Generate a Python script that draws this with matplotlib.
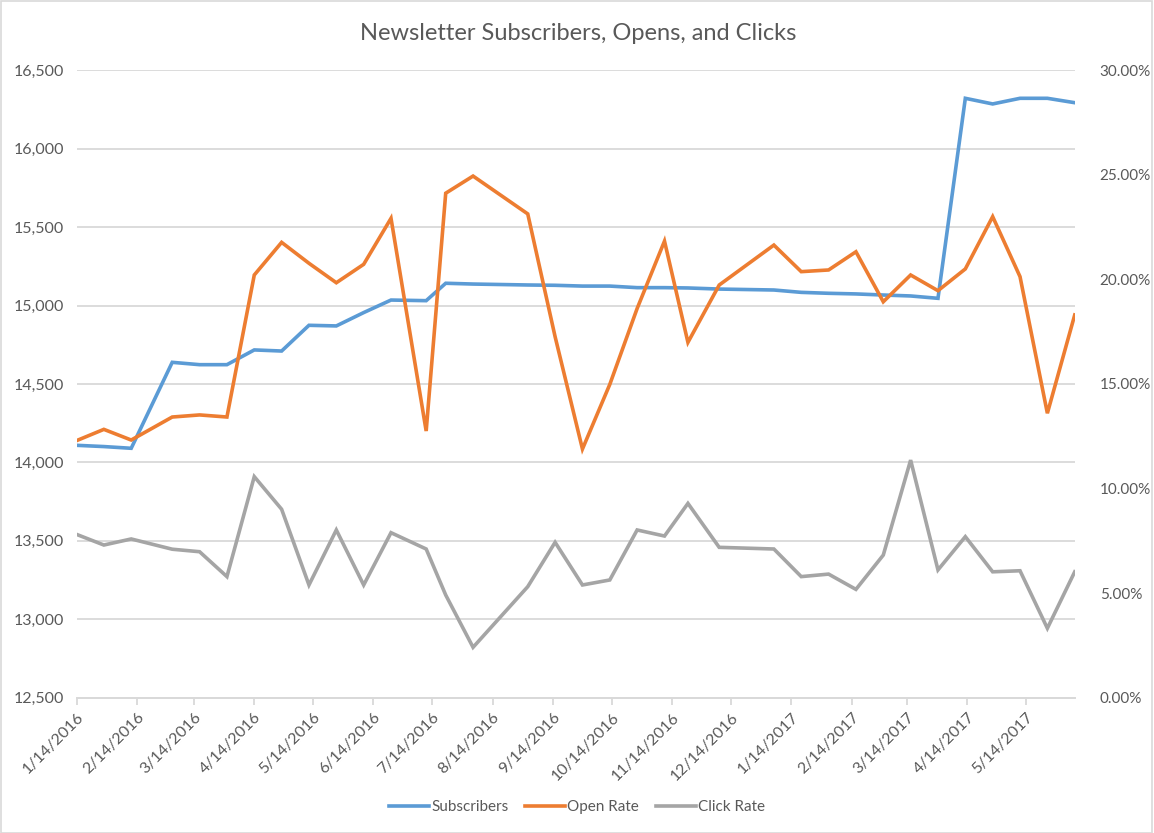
import matplotlib
matplotlib.use("Agg")
import matplotlib.pyplot as plt
from matplotlib.ticker import FuncFormatter
from matplotlib.patches import Rectangle
import pandas as pd

plt.rcParams['font.family'] = ['Lato', 'DejaVu Sans']

# data (roughly biweekly sends)
dates = ["2016-01-14", "2016-01-28", "2016-02-11", "2016-03-03", "2016-03-17", "2016-03-31",
         "2016-04-14", "2016-04-28", "2016-05-12", "2016-05-26", "2016-06-09", "2016-06-23",
         "2016-07-11", "2016-07-21", "2016-08-04", "2016-09-01", "2016-09-15", "2016-09-29",
         "2016-10-13", "2016-10-27", "2016-11-10", "2016-11-22", "2016-12-08", "2017-01-05",
         "2017-01-19", "2017-02-02", "2017-02-16", "2017-03-02", "2017-03-16", "2017-03-30",
         "2017-04-13", "2017-04-27", "2017-05-11", "2017-05-25", "2017-06-08"]

subscribers = [14109, 14101, 14090, 14638, 14623, 14623, 14717, 14710, 14874, 14870, 14955, 15035,
               15031, 15142, 15137, 15131, 15129, 15124, 15124, 15114, 15114, 15112, 15105, 15099,
               15084, 15078, 15074, 15067, 15061, 15046, 16321, 16285, 16321, 16321, 16293]

open_rate = [12.29, 12.83, 12.32, 13.42, 13.52, 13.42, 20.21, 21.77, 20.77, 19.84, 20.72, 22.92,
             12.75, 24.12, 24.94, 23.13, 17.26, 11.89, 14.98, 18.61, 21.83, 16.99, 19.73, 21.64,
             20.37, 20.45, 21.32, 18.93, 20.21, 19.46, 20.50, 23.00, 20.13, 13.60, 18.30]

click_rate = [7.81, 7.30, 7.59, 7.10, 6.98, 5.79, 10.57, 9.01, 5.39, 8.02, 5.39, 7.89,
              7.11, 4.91, 2.41, 5.31, 7.43, 5.39, 5.63, 8.02, 7.73, 9.29, 7.19, 7.11,
              5.79, 5.91, 5.18, 6.82, 11.36, 6.11, 7.70, 6.02, 6.07, 3.32, 6.02]

x = pd.to_datetime(dates)
tick_dates = pd.date_range("2016-01-01", "2017-05-01", freq="MS") + pd.Timedelta(days=13)
tick_labels = [f"{d.month}/{d.day}/{d.year}" for d in tick_dates]

blue = "#5B9BD5"
orange = "#ED7D31"
gray = "#A5A5A5"
text_col = "#595959"
grid_col = "#D9D9D9"

fig = plt.figure(figsize=(11.54, 8.33), dpi=100)
ax = fig.add_axes([0.0663, 0.1624, 0.865, 0.7533])
ax2 = ax.twinx()

l1, = ax.plot(x, subscribers, color=blue, lw=2.6, solid_joinstyle="miter", label="Subscribers")
l2, = ax2.plot(x, [v / 100 for v in open_rate], color=orange, lw=2.6, solid_joinstyle="miter", label="Open Rate")
l3, = ax2.plot(x, [v / 100 for v in click_rate], color=gray, lw=2.6, solid_joinstyle="miter", label="Click Rate")

ax.set_ylim(12500, 16500)
ax.set_yticks(range(12500, 16501, 500))
ax.yaxis.set_major_formatter(FuncFormatter(lambda v, p: f"{int(v):,}"))
ax2.set_ylim(0, 0.30)
ax2.set_yticks([0, 0.05, 0.10, 0.15, 0.20, 0.25, 0.30])
ax2.yaxis.set_major_formatter(FuncFormatter(lambda v, p: f"{v * 100:.2f}%"))

ax.set_xlim(x[0], x[-1])
ax.set_xticks(tick_dates)
ax.set_xticklabels(tick_labels, rotation=45, ha="right", rotation_mode="anchor")

ax.grid(axis="y", color=grid_col, lw=1.3)
ax.set_axisbelow(True)
for a in (ax, ax2):
    for s in ("left", "right", "top"):
        a.spines[s].set_visible(False)
    a.spines["bottom"].set_color(grid_col)
    a.spines["bottom"].set_linewidth(1.3)
    a.tick_params(axis="y", length=0, labelsize=11.5, labelcolor=text_col)
ax.tick_params(axis="y", pad=9)
ax2.tick_params(axis="y", pad=18, labelsize=11)
ax.tick_params(axis="x", length=5, width=1.3, color=grid_col, labelsize=11.5, labelcolor=text_col, pad=4)

fig.suptitle("Newsletter Subscribers, Opens, and Clicks", x=0.501, y=0.972, fontsize=17, color=text_col)

fig.legend(handles=[l1, l2, l3], loc="center", bbox_to_anchor=(0.5, 0.031), ncol=3, frameon=False,
           fontsize=11, labelcolor=text_col, handlelength=2.6, handletextpad=0.15, columnspacing=1.1)

fig.patches.append(Rectangle((0.0005, 0.0005), 0.998, 0.998, transform=fig.transFigure,
                             fill=False, edgecolor=grid_col, lw=1.2))

fig.savefig("out.png", dpi=100)
plt.close("all")
